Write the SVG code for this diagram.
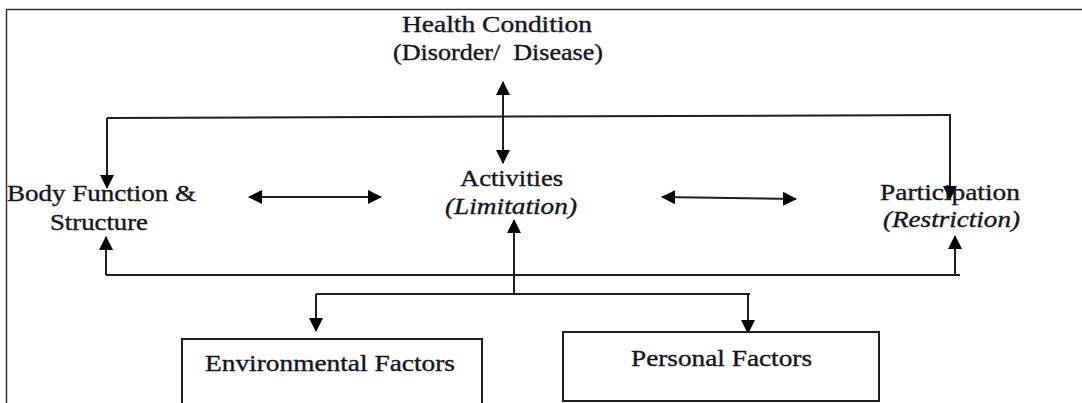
<svg xmlns="http://www.w3.org/2000/svg" width="1082" height="403" viewBox="0 0 1082 403">
<defs>
<style>
.t{font-family:"Liberation Serif","DejaVu Serif","Times New Roman",serif;font-size:22.5px;fill:#14141f;stroke:#14141f;stroke-width:0.35}
.i{font-style:italic}
.c{fill:none;stroke:#1e1e1e;stroke-width:2}
.b{fill:#fff;stroke:#1e1e1e;stroke-width:2}
</style>
<marker id="ah" viewBox="0 0 14 14" refX="13" refY="7" markerUnits="userSpaceOnUse" markerWidth="14" markerHeight="14" orient="auto-start-reverse">
<path d="M0,0 L14,7 L0,14 z" fill="#000"/>
</marker>
</defs>
<rect width="1082" height="403" fill="#fff"/>
<path d="M6.5,403 L6.5,9.5 L1082,9.5" fill="none" stroke="#333" stroke-width="1.5"/>
<g id="connectors">
<path class="c" d="M107,118 L951,115"/>
<path class="c" d="M107,118 L107,188" marker-end="url(#ah)"/>
<path class="c" d="M950,116 L950,199" marker-end="url(#ah)"/>
<path class="c" d="M503,82 L503,163" marker-start="url(#ah)" marker-end="url(#ah)"/>
<path class="c" d="M106,275 L960,275"/>
<path class="c" d="M106,275 L106,237" marker-end="url(#ah)"/>
<path class="c" d="M955,275 L955,236" marker-end="url(#ah)"/>
<path class="c" d="M514,294 L514,220" marker-end="url(#ah)"/>
<path class="c" d="M316,294 L750,294"/>
<path class="c" d="M316,294 L316,331" marker-end="url(#ah)"/>
<path class="c" d="M748,294 L748,333" marker-end="url(#ah)"/>
<path class="c" d="M249,197 L381,197" marker-start="url(#ah)" marker-end="url(#ah)"/>
<path class="c" d="M662,197 L796,199" marker-start="url(#ah)" marker-end="url(#ah)"/>
</g>
<g id="health">
<text class="t" x="402" y="32" textLength="190" lengthAdjust="spacingAndGlyphs">Health Condition</text>
<text class="t" x="393" y="60" textLength="210" lengthAdjust="spacingAndGlyphs" xml:space="preserve">(Disorder/  Disease)</text>
</g>
<g id="body">
<text class="t" x="7" y="201" textLength="189" lengthAdjust="spacingAndGlyphs">Body Function &amp;</text>
<text class="t" x="50" y="230" textLength="98" lengthAdjust="spacingAndGlyphs">Structure</text>
</g>
<g id="activities">
<text class="t" x="460" y="186" textLength="103" lengthAdjust="spacingAndGlyphs">Activities</text>
<text class="t i" x="445" y="214" textLength="132" lengthAdjust="spacingAndGlyphs">(Limitation)</text>
</g>
<g id="participation">
<text class="t" x="880" y="200" textLength="140" lengthAdjust="spacingAndGlyphs">Participation</text>
<text class="t i" x="883" y="227" textLength="137" lengthAdjust="spacingAndGlyphs">(Restriction)</text>
</g>
<g id="environmental">
<rect class="b" x="182" y="339" width="300" height="70"/>
<text class="t" x="205" y="371" textLength="250" lengthAdjust="spacingAndGlyphs">Environmental Factors</text>
</g>
<g id="personal">
<rect class="b" x="563" y="332" width="316" height="69"/>
<text class="t" x="631" y="366" textLength="181" lengthAdjust="spacingAndGlyphs">Personal Factors</text>
</g>
</svg>
